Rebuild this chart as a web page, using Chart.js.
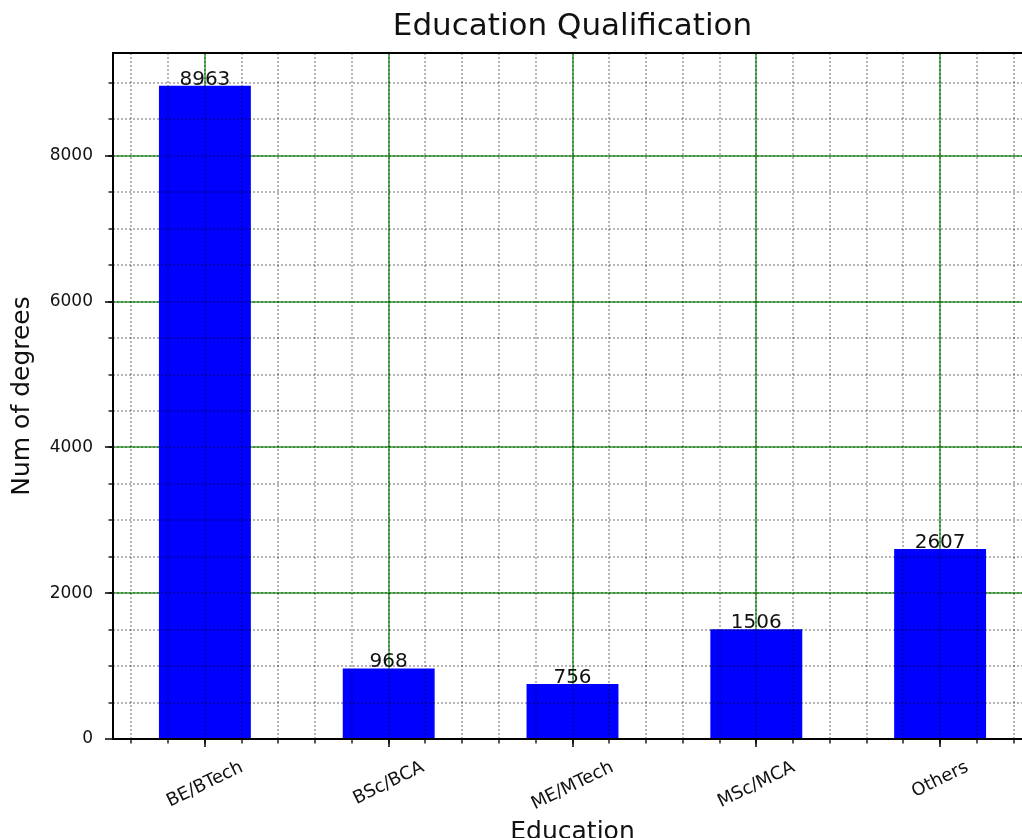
<!DOCTYPE html>
<html><head><meta charset="utf-8">
<script src="https://cdn.jsdelivr.net/npm/chart.js@4.4.0/dist/chart.umd.min.js"></script>
<style>html,body{margin:0;padding:0;overflow:hidden;background:#fff}canvas{display:block}</style>
</head><body>
<canvas id="c" width="1040" height="850" style="width:1040px;height:850px"></canvas>
<script>
const categories = ['BE/BTech', 'BSc/BCA', 'ME/MTech', 'MSc/MCA', 'Others'];
const degreeCounts = [8963, 968, 756, 1506, 2607];
const yTickValues = [0, 2000, 4000, 6000, 8000];
const yMax = 9411;
const yMinorStep = 500;
const xMinorStep = 0.2;
const titleText = 'Education Qualification';
const xTitleText = 'Education';
const yTitleText = 'Num of degrees';

const FONT = "'DejaVu Sans', sans-serif";
const TXT = '#111';

const minorPlugin = {
  id: 'minorGrid',
  afterDatasetsDraw(chart) {
    const {ctx, chartArea: a, scales: {x, y}} = chart;
    ctx.save();
    ctx.beginPath();
    ctx.rect(a.left, a.top, a.right - a.left, a.bottom - a.top);
    ctx.clip();
    ctx.strokeStyle = 'rgba(0,0,0,0.38)';
    ctx.lineWidth = 1.5;
    ctx.setLineDash([2, 2]);
    const xs = [], ys = [];
    for (let k = -3; k <= 23; k++) xs.push(k * xMinorStep);
    for (let k = 1; k * yMinorStep < yMax; k++) ys.push(k * yMinorStep);
    xs.forEach(v => {
      const px = Math.round(x.getPixelForValue(v));
      ctx.beginPath(); ctx.moveTo(px, a.top); ctx.lineTo(px, a.bottom); ctx.stroke();
    });
    ys.forEach(v => {
      const py = Math.round(y.getPixelForValue(v));
      ctx.beginPath(); ctx.moveTo(a.left, py); ctx.lineTo(a.right, py); ctx.stroke();
    });
    ctx.restore();
    // minor tick marks
    ctx.save();
    ctx.strokeStyle = '#000';
    ctx.lineWidth = 1.3;
    xs.forEach(v => {
      const px = Math.round(x.getPixelForValue(v));
      if (px < a.left || px > a.right) return;
      ctx.beginPath(); ctx.moveTo(px, a.bottom); ctx.lineTo(px, a.bottom + 4.5); ctx.stroke();
    });
    ys.forEach(v => {
      const py = Math.round(y.getPixelForValue(v));
      ctx.beginPath(); ctx.moveTo(a.left - 4.5, py); ctx.lineTo(a.left, py); ctx.stroke();
    });
    ctx.restore();
  }
};

const textPlugin = {
  id: 'texts',
  afterDraw(chart) {
    const {ctx, chartArea: a, scales: {x, y}} = chart;
    ctx.save();
    // top and right spines
    ctx.strokeStyle = '#000';
    ctx.lineWidth = 2;
    ctx.beginPath(); ctx.moveTo(a.left - 1, a.top); ctx.lineTo(a.right + 1, a.top); ctx.stroke();
    ctx.beginPath(); ctx.moveTo(a.right, a.top); ctx.lineTo(a.right, a.bottom); ctx.stroke();
    // value labels
    ctx.fillStyle = TXT;
    ctx.font = "20px " + FONT;
    ctx.textAlign = 'center';
    ctx.textBaseline = 'alphabetic';
    degreeCounts.forEach((v, i) => {
      ctx.fillText(String(v), x.getPixelForValue(i), y.getPixelForValue(v) - 1);
    });
    // rotated x tick labels
    const ang = 26 * Math.PI / 180;
    const fs = 18;
    ctx.font = fs + "px " + FONT;
    ctx.textBaseline = 'middle';
    categories.forEach((lab, i) => {
      const w = ctx.measureText(lab).width;
      const h = fs * 1.17;
      const bh = w * Math.sin(ang) + h * Math.cos(ang);
      const cx = x.getPixelForValue(i);
      const cy = a.bottom + 18 + bh / 2;
      ctx.save();
      ctx.translate(cx, cy);
      ctx.rotate(-ang);
      ctx.fillText(lab, 0, 0);
      ctx.restore();
    });
    ctx.restore();
  }
};

new Chart(document.getElementById('c'), {
  type: 'bar',
  data: {
    labels: categories,
    datasets: [{
      data: degreeCounts,
      backgroundColor: '#0000ff',
      borderWidth: 0,
      barPercentage: 0.5,
      categoryPercentage: 1.0
    }]
  },
  options: {
    responsive: false,
    animation: false,
    devicePixelRatio: 1,
    layout: {padding: {top: 0, right: 8, left: 0, bottom: 0}},
    plugins: {
      legend: {display: false},
      tooltip: {enabled: false},
      title: {
        display: true, text: titleText, fullSize: false, color: TXT,
        font: {family: FONT, size: 31, weight: 'normal', lineHeight: 1.2},
        padding: {top: 8.5, bottom: 7.3}
      }
    },
    scales: {
      x: {
        z: 1,
        offset: true,
        grid: {offset: false, color: 'rgba(0,140,0,0.6)', lineWidth: 2, drawTicks: true, tickLength: 8, tickColor: '#000', tickWidth: 1.5},
        border: {color: '#000', width: 2},
        ticks: {display: false},
        title: {display: true, text: xTitleText, color: TXT, font: {family: FONT, size: 25, lineHeight: 1.2}, padding: {top: 0, bottom: 3}},
        afterFit(s) { s.height = 111; }
      },
      y: {
        z: 1,
        min: 0,
        max: yMax,
        afterBuildTicks(s) { s.ticks = yTickValues.map(v => ({value: v})); },
        ticks: {color: TXT, font: {family: FONT, size: 17}, padding: 12, callback: v => String(v)},
        grid: {color: 'rgba(0,140,0,0.6)', lineWidth: 2, drawTicks: true, tickLength: 8, tickColor: '#000', tickWidth: 1.5},
        border: {color: '#000', width: 2},
        title: {display: true, text: yTitleText, color: TXT, font: {family: FONT, size: 25, lineHeight: 1.2}, padding: {top: 7, bottom: 0}},
        afterFit(s) { s.width = 113; }
      }
    }
  },
  plugins: [minorPlugin, textPlugin]
});
</script>
</body></html>
